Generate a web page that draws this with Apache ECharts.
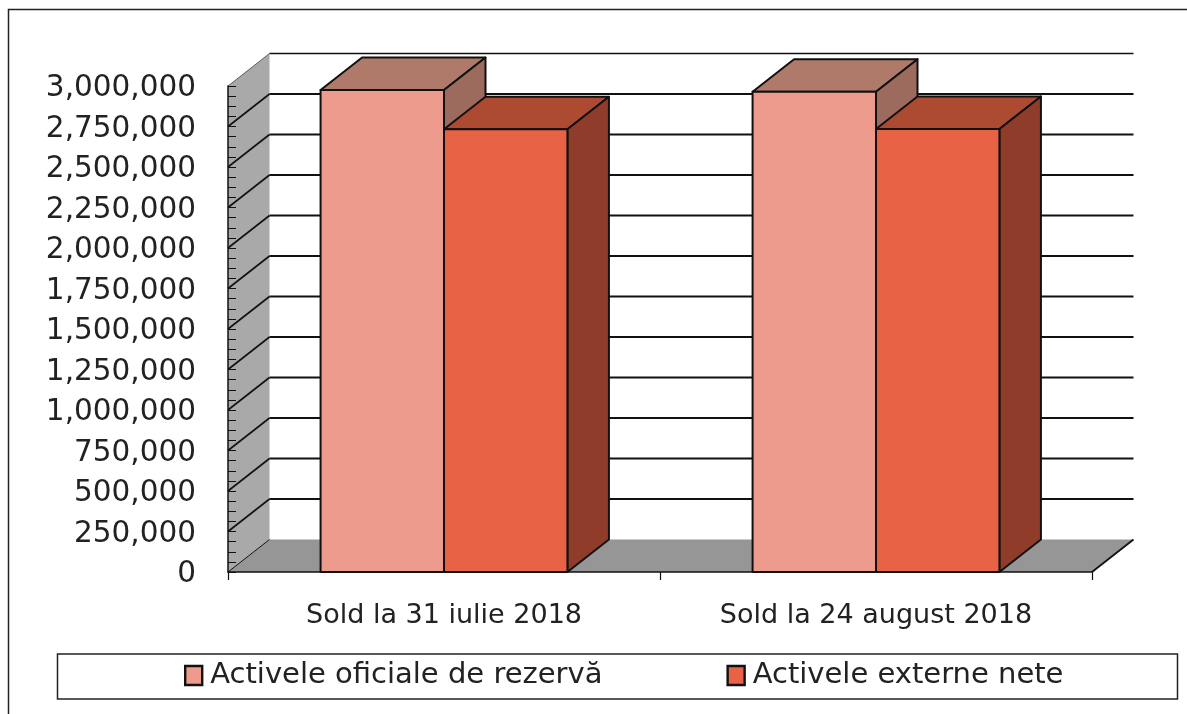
<!DOCTYPE html>
<html><head><meta charset="utf-8">
<style>html,body{margin:0;padding:0;background:#fff}#c{width:1187px;height:714px}</style>
<script src="https://cdn.jsdelivr.net/npm/echarts@6/dist/echarts.min.js"></script>
</head><body><div id="c"></div>
<script>
const categories = ['Sold la 31 iulie 2018', 'Sold la 24 august 2018'];
const rezerva = [2975000, 2965000];
const externe = [2733000, 2735000];
const seriesNames = ['Activele oficiale de rezervă', 'Activele externe nete'];
const yTicks = [0,250000,500000,750000,1000000,1250000,1500000,1750000,2000000,2250000,2500000,2750000,3000000];
const DX = 41.5, DY = 32.5, INK = '#111';
const font = '"DejaVu Sans"';

function wall(params, api) {
  const cs = params.coordSys;
  const L = cs.x, R = cs.x + cs.width, B = cs.y + cs.height, T = cs.y;
  const kids = [
    {type:'polygon', shape:{points:[[L,T],[L+DX,T-DY],[L+DX,B-DY],[L,B]]}, style:{fill:'#a9a9a9'}},
    {type:'polygon', shape:{points:[[L,B],[L+DX,B-DY],[R+DX,B-DY],[R,B]]}, style:{fill:'#969696'}}
  ];
  yTicks.forEach(v => {
    const y = api.coord([0, v])[1];
    if (v > 0) kids.push({type:'line', shape:{x1:L+DX, y1:y-DY, x2:R+DX, y2:y-DY}, style:{stroke:INK, lineWidth: v===3000000?1.5:2}});
    kids.push({type:'line', shape:{x1:L, y1:y, x2:L+DX, y2:y-DY}, style:{stroke:INK, lineWidth: v===3000000?0.6:(v===0?1:1.6)}});
  });
  kids.push({type:'line', shape:{x1:R, y1:B, x2:R+DX, y2:B-DY}, style:{stroke:INK, lineWidth:1.8}});
  return {type:'group', children:kids};
}

function barItem(offset, front, top, side) {
  return function(params, api) {
    const idx = api.value(0), val = api.value(1);
    const band = api.size([1, 0])[0];
    const w = band * 0.2857;
    const c = api.coord([idx, val]);
    const base = api.coord([idx, 0]);
    const x0 = c[0] + offset * w, x1 = x0 + w, yT = c[1], yB = base[1];
    const sty = f => ({fill:f, stroke:INK, lineWidth:2, lineJoin:'round'});
    return {type:'group', children:[
      {type:'polygon', shape:{points:[[x0,yT],[x0+DX,yT-DY],[x1+DX,yT-DY],[x1,yT]]}, style:sty(top)},
      {type:'polygon', shape:{points:[[x1,yT],[x1+DX,yT-DY],[x1+DX,yB-DY],[x1,yB]]}, style:sty(side)},
      {type:'rect', shape:{x:x0, y:yT, width:w, height:yB-yT}, style:sty(front)}
    ]};
  };
}

const chart = echarts.init(document.getElementById('c'), null, {renderer:'canvas'});
chart.setOption({
  animation:false,
  backgroundColor:'#fff',
  textStyle:{fontFamily:font},
  grid:{left:228, right:95, top:86, bottom:142, containLabel:false},
  graphic:[
    {type:'rect', z:-10, shape:{x:8.5,y:9.5,width:1300,height:900}, style:{fill:'#fff', stroke:'#222', lineWidth:1.5}},
    {type:'rect', z:-9, shape:{x:57.5,y:654,width:1120,height:45}, style:{fill:'#fff', stroke:'#222', lineWidth:1.5}}
  ],
  xAxis:{type:'category', data:categories, z:5,
    axisLine:{lineStyle:{color:INK, width:1.5}},
    axisTick:{show:true, length:8, alignWithLabel:false, lineStyle:{color:INK, width:1.2}},
    axisLabel:{fontSize:27, color:'#222', margin:30, fontFamily:font},
    splitLine:{show:false}},
  yAxis:{type:'value', min:0, max:3000000, interval:250000, z:5,
    axisLine:{show:true, lineStyle:{color:INK, width:1.5}},
    axisTick:{show:true, inside:true, length:8, lineStyle:{color:INK, width:1}},
    minorTick:{show:true, splitNumber:4, length:8, lineStyle:{color:INK, width:1}},
    axisLabel:{fontSize:29.5, color:'#222', margin:32, fontFamily:font, verticalAlign:'top', lineHeight:5},
    splitLine:{show:false}},
  legend:{left:179, top:656, itemWidth:17, itemHeight:19, itemGap:124, icon:'rect',
    itemStyle:{borderColor:INK, borderWidth:2.4},
    textStyle:{fontSize:29, color:'#222', fontFamily:font, padding:[0,0,0,3]},
    selectedMode:false,
    data:[{name:seriesNames[0]},{name:seriesNames[1]}]},
  series:[
    {type:'custom', silent:true, z:1, data:[[0,0]], renderItem:wall, legendHoverLink:false},
    {type:'custom', name:seriesNames[0], z:2, itemStyle:{color:'#ec9b8c'},
      data:rezerva.map((v,i)=>[i,v]), encode:{x:0,y:1},
      renderItem:barItem(-1,'#ec9b8c','#b07a6a','#9c6b5e')},
    {type:'custom', name:seriesNames[1], z:3, itemStyle:{color:'#e86245'},
      data:externe.map((v,i)=>[i,v]), encode:{x:0,y:1},
      renderItem:barItem(0,'#e86245','#ad4a32','#8f3c2a')}
  ]
});
</script></body></html>
